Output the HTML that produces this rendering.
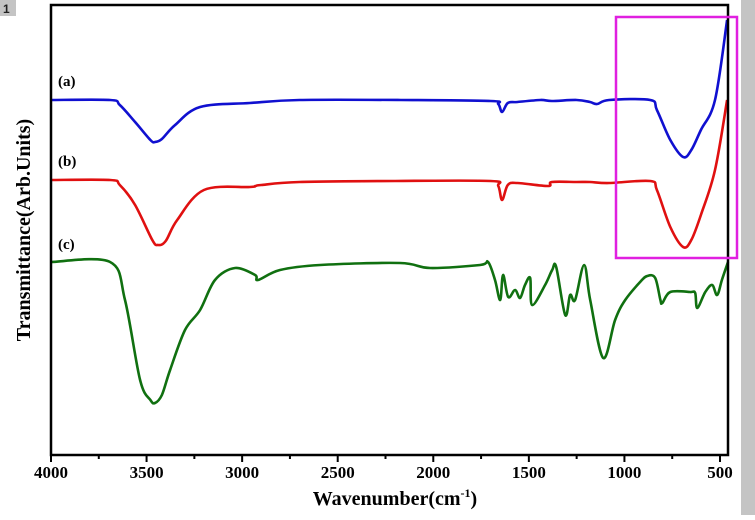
<!DOCTYPE html>
<html><head><meta charset="utf-8"><style>
body{margin:0;background:#fff;width:755px;height:515px;overflow:hidden;font-family:"Liberation Serif",serif;}
</style></head><body>
<svg width="755" height="515" xmlns="http://www.w3.org/2000/svg">
<rect x="741" y="0" width="14" height="515" fill="#c4c4c4"/>
<rect x="0" y="0" width="16" height="16" fill="#c4c4c4"/>
<text x="3" y="13" font-family="Liberation Sans, sans-serif" font-weight="bold" font-size="12" fill="#222">1</text>
<g id="plot"></g>
<rect x="616" y="17" width="121" height="241" fill="none" stroke="#e020e0" stroke-width="2.5"/>
<text x="395" y="505" text-anchor="middle" font-weight="bold" font-size="20">Wavenumber(cm<tspan dy="-8" font-size="12">-1</tspan><tspan dy="8">)</tspan></text>
<text transform="translate(30,230) rotate(-90)" text-anchor="middle" font-weight="bold" font-size="20">Transmittance(Arb.Units)</text>
<text x="58" y="86" font-weight="bold" font-size="15">(a)</text>
<text x="58" y="166" font-weight="bold" font-size="15">(b)</text>
<text x="58" y="249" font-weight="bold" font-size="15">(c)</text>
</svg>
<script>
const xTicks=[4000,3500,3000,2500,2000,1500,1000,500];
const xMinor=[3750,3250,2750,2250,1750,1250,750];
const wnA=[4000,3691,3640,3560,3480,3456,3420,3351,3220,2960,2700,2170,1700,1660,1640,1610,1560,1440,1380,1250,1180,1143,1080,865,830,760,693,650,600,526,463];
const tA=[355,355,350,333,315,313,316,330,348,352,355,355,354,351,343,352,353,355,354,355,353,351,355,355,345,315,298,305,325,355,435];
const wnB=[4000,3691,3640,3560,3470,3440,3400,3340,3200,2960,2930,2900,2700,2200,1700,1660,1640,1610,1560,1400,1380,1250,1180,1080,865,830,760,693,650,600,526,463];
const tB=[275,275,270,250,215,210,214,235,265,268,269,270,273,274,274,269,255,270,272,269,273,273,273,272,274,265,228,208,215,240,285,355];
const wnC=[4000,3691,3613,3534,3480,3456,3420,3377,3299,3220,3142,3037,2932,2917,2802,2592,2174,2017,1755,1713,1677,1650,1635,1608,1572,1546,1520,1493,1483,1415,1378,1357,1310,1284,1258,1211,1179,1111,1049,996,918,881,839,812,802,760,656,630,619,577,541,515,490,458];
const tC=[193,193,155,75,55,52,60,85,125,145,175,187,180,175,185,190,192,187,190,193,175,155,180,158,165,157,170,177,150,170,185,188,140,160,155,190,155,97,135,155,173,179,177,155,152,163,163,162,147,163,170,160,175,193];
const L=51,R=728,T=5,B=455,W0=4000,W1=500;
const sx=w=>L+(W0-w)*(720-51)/(W0-W1);
const sy=v=>B-v;
const g=document.getElementById('plot');
const NS='http://www.w3.org/2000/svg';
function mk(t,a){const e=document.createElementNS(NS,t);for(const k in a)e.setAttribute(k,a[k]);g.appendChild(e);return e;}
function series(wn,t,c,name){
 const P=wn.map((w,i)=>[sx(w),sy(t[i])]);
 let d='M'+P[0][0].toFixed(1)+','+P[0][1].toFixed(1);
 for(let i=0;i<P.length-1;i++){
  const p0=P[Math.max(0,i-1)],p1=P[i],p2=P[i+1],p3=P[Math.min(P.length-1,i+2)];
  const k=0.5/3;
  const c1=[p1[0]+(p2[0]-p0[0])*k,p1[1]+(p2[1]-p0[1])*k];
  const c2=[p2[0]-(p3[0]-p1[0])*k,p2[1]-(p3[1]-p1[1])*k];
  d+=' C'+c1.map(v=>v.toFixed(1)).join(',')+' '+c2.map(v=>v.toFixed(1)).join(',')+' '+p2[0].toFixed(1)+','+p2[1].toFixed(1);
 }
 const p=mk('path',{d:d,fill:'none',stroke:c,'stroke-width':2.6,'stroke-linejoin':'round'});
 
 
}
series(wnA,tA,'#1010d0','series-a');
series(wnB,tB,'#e01010','series-b');
series(wnC,tC,'#107010','series-c');
const fr=mk('rect',{x:L,y:T,width:R-L,height:B-T,fill:'none',stroke:'#000','stroke-width':2.5});


xTicks.forEach(w=>{
 const l=mk('line',{x1:sx(w),x2:sx(w),y1:B,y2:B+7,stroke:'#000','stroke-width':2});
 
 
 const t=mk('text',{x:sx(w),y:B+23,'text-anchor':'middle','font-weight':'bold','font-size':17,'font-family':'Liberation Serif, serif'});
 t.textContent=w;
 
 
});
xMinor.forEach(w=>{
 const l=mk('line',{x1:sx(w),x2:sx(w),y1:B,y2:B+4,stroke:'#000','stroke-width':2});
 
 
});
</script>
</body></html>
